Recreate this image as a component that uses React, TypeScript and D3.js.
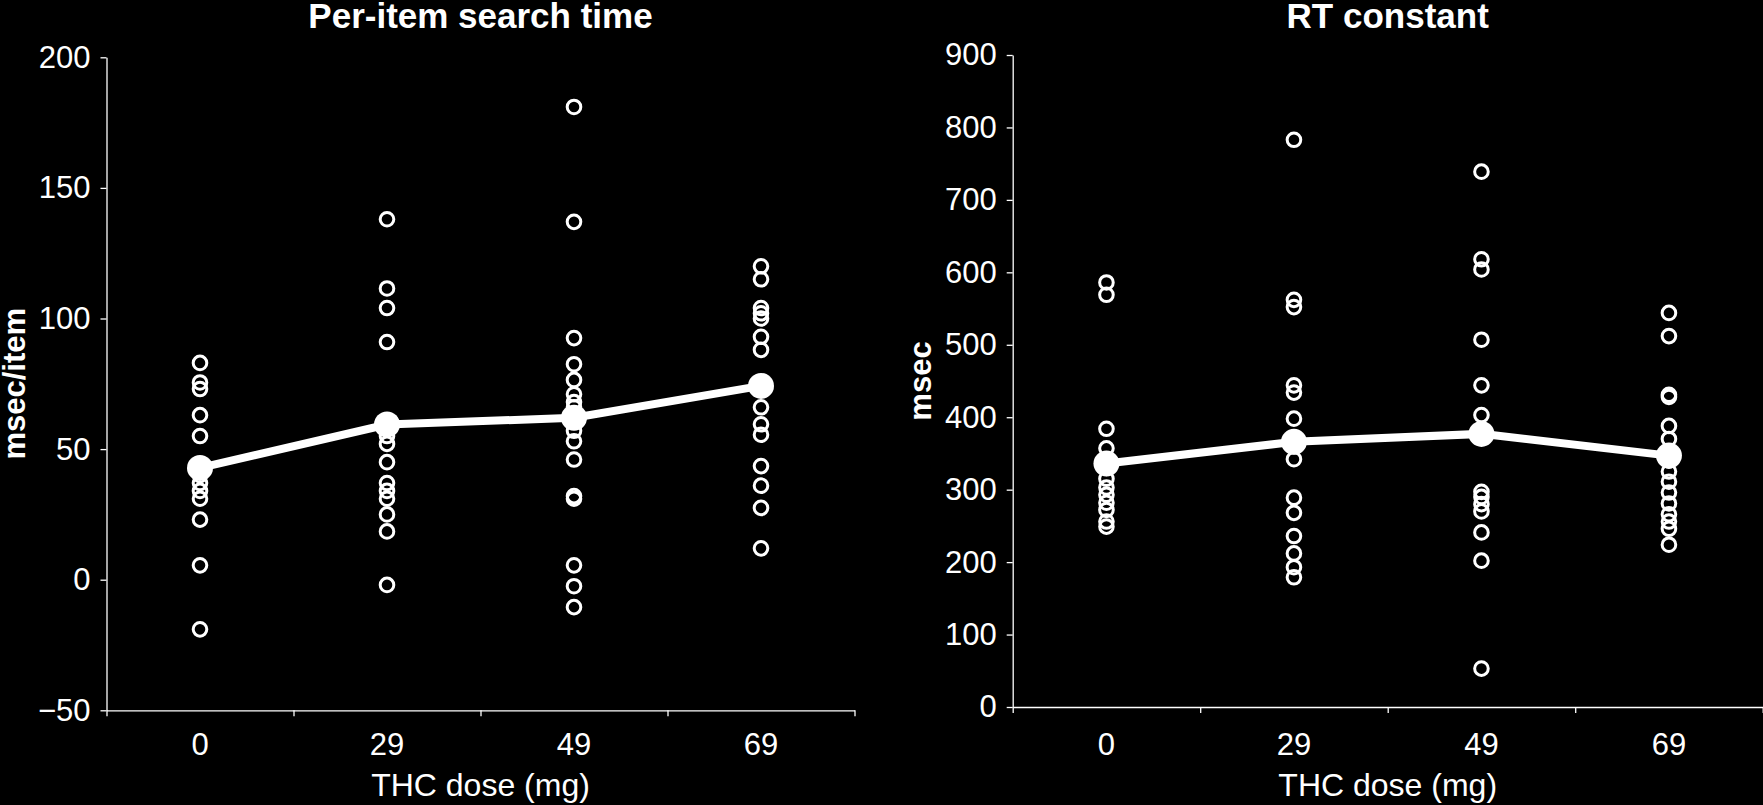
import React, { useRef, useEffect } from 'react'
import * as d3 from 'd3'

// THC dose groups
const doses = ['0', '29', '49', '69']

// Per-item search time (msec/item), individual subjects per dose
const searchDose0 = [83, 75.5, 73, 63, 55, 44, 40, 37, 34, 31, 23, 5.5, -19]
const searchDose29 = [138, 111.5, 104, 91, 55, 52, 45, 37, 34, 31, 25, 18.5, -2]
const searchDose49 = [181, 137, 92.5, 82.5, 76.5, 71, 68, 66, 57, 53, 46, 32, 31, 5.5, -2.5, -10.5]
const searchDose69 = [120, 115, 104, 102, 100, 93, 88, 74, 66, 59.5, 55.5, 43.5, 36, 27.5, 12]
const searchMeans = [42.8, 59.4, 62, 74.2]
const searchTicks = [-50, 0, 50, 100, 150, 200]

// RT constant (msec)
const rtDose0 = [586, 569, 384, 357, 340, 330, 315, 303, 293, 282, 272, 256, 249]
const rtDose29 = [783, 562, 552, 444, 434, 398, 360, 342, 289, 268, 236, 212, 193, 179]
const rtDose49 = [739, 618, 604, 507, 444, 403, 375, 297, 290, 280, 270, 241, 202, 53]
const rtDose69 = [544, 512, 431, 428, 388, 370, 340, 325, 311, 296, 281, 266, 256, 246, 224]
const rtMeans = [336, 366, 377, 347]
const rtTicks = [0, 100, 200, 300, 400, 500, 600, 700, 800, 900]

const W = 1763
const H = 805
const FONT = '"Liberation Sans", Arial, sans-serif'

interface PanelSpec {
  title: string
  yLabel: string
  groups: number[][]
  means: number[]
  ticks: number[]
  left: number
  right: number
  top: number
  bottom: number
}

const panels: PanelSpec[] = [
  {
    title: 'Per-item search time',
    yLabel: 'msec/item',
    groups: [searchDose0, searchDose29, searchDose49, searchDose69],
    means: searchMeans,
    ticks: searchTicks,
    left: 106.5, right: 854.5, top: 57.3, bottom: 710.3
  },
  {
    title: 'RT constant',
    yLabel: 'msec',
    groups: [rtDose0, rtDose29, rtDose49, rtDose69],
    means: rtMeans,
    ticks: rtTicks,
    left: 1012.7, right: 1762.7, top: 55, bottom: 707
  }
]

export default function App() {
  const svgRef = useRef<SVGSVGElement>(null)

  useEffect(() => {
    document.body.style.margin = '0'
    document.body.style.background = '#000'
    if (!svgRef.current) return
    const svg = d3.select(svgRef.current)
    svg.selectAll('*').remove()

    svg.append('rect').attr('width', W).attr('height', H).attr('fill', '#000')

    panels.forEach(p => {
      const x = d3.scaleBand<string>().domain(doses).range([p.left, p.right]).padding(0)
      const xEdge = d3.scaleLinear().domain([0, doses.length]).range([p.left, p.right])
      const y = d3.scaleLinear()
        .domain([p.ticks[0], p.ticks[p.ticks.length - 1]])
        .range([p.bottom, p.top])
      const cx = (d: string) => (x(d) ?? 0) + x.bandwidth() / 2

      const g = svg.append('g')

      // y axis
      const yAxis = g.append('g')
        .attr('transform', `translate(${p.left},0)`)
        .call(d3.axisLeft(y).tickValues(p.ticks).tickSize(6).tickSizeOuter(0).tickPadding(10))
      yAxis.selectAll('text')
        .attr('fill', '#fff')
        .style('font-family', FONT)
        .style('font-size', '31px')
      yAxis.selectAll('line, path').attr('stroke', '#fff').attr('stroke-width', 1.3)

      // x axis (ticks on band edges)
      const xAxis = g.append('g')
        .attr('transform', `translate(0,${p.bottom})`)
        .call(d3.axisBottom(xEdge).tickValues(d3.range(doses.length + 1)).tickSize(6).tickSizeOuter(0).tickFormat(() => ''))
      xAxis.selectAll('line, path').attr('stroke', '#fff').attr('stroke-width', 1.3)

      g.selectAll('.xlab')
        .data(doses)
        .enter()
        .append('text')
        .attr('x', d => cx(d))
        .attr('y', 755)
        .attr('text-anchor', 'middle')
        .attr('fill', '#fff')
        .style('font-family', FONT)
        .style('font-size', '31px')
        .text(d => d)

      // titles
      const mid = (p.left + p.right) / 2
      g.append('text')
        .attr('x', mid)
        .attr('y', 28)
        .attr('text-anchor', 'middle')
        .attr('fill', '#fff')
        .style('font-family', FONT)
        .style('font-size', '35px')
        .style('font-weight', 'bold')
        .text(p.title)

      g.append('text')
        .attr('x', mid)
        .attr('y', 796)
        .attr('text-anchor', 'middle')
        .attr('fill', '#fff')
        .style('font-family', FONT)
        .style('font-size', '32px')
        .text('THC dose (mg)')

      g.append('text')
        .attr('transform', `translate(${p.left - 82},${(p.top + p.bottom) / 2}) rotate(-90)`)
        .attr('text-anchor', 'middle')
        .attr('fill', '#fff')
        .style('font-family', FONT)
        .style('font-size', '31px')
        .style('font-weight', 'bold')
        .text(p.yLabel)

      // individual subjects
      p.groups.forEach((vals, i) => {
        g.append('g')
          .selectAll('circle')
          .data(vals)
          .enter()
          .append('circle')
          .attr('cx', cx(doses[i]))
          .attr('cy', d => y(d))
          .attr('r', 6.8)
          .attr('fill', 'none')
          .attr('stroke', '#fff')
          .attr('stroke-width', 3)
      })

      // group means
      const line = d3.line<number>()
        .x((_, i) => cx(doses[i]))
        .y(d => y(d))
      g.append('path')
        .datum(p.means)
        .attr('d', line)
        .attr('fill', 'none')
        .attr('stroke', '#fff')
        .attr('stroke-width', 8)

      g.append('g')
        .selectAll('circle')
        .data(p.means)
        .enter()
        .append('circle')
        .attr('cx', (_, i) => cx(doses[i]))
        .attr('cy', d => y(d))
        .attr('r', 13)
        .attr('fill', '#fff')
    })
  }, [])

  return (
    <div style={{ position: 'absolute', left: 0, top: 0, width: W, height: H, background: '#000' }}>
      <svg ref={svgRef} width={W} height={H} style={{ display: 'block' }} />
    </div>
  )
}
